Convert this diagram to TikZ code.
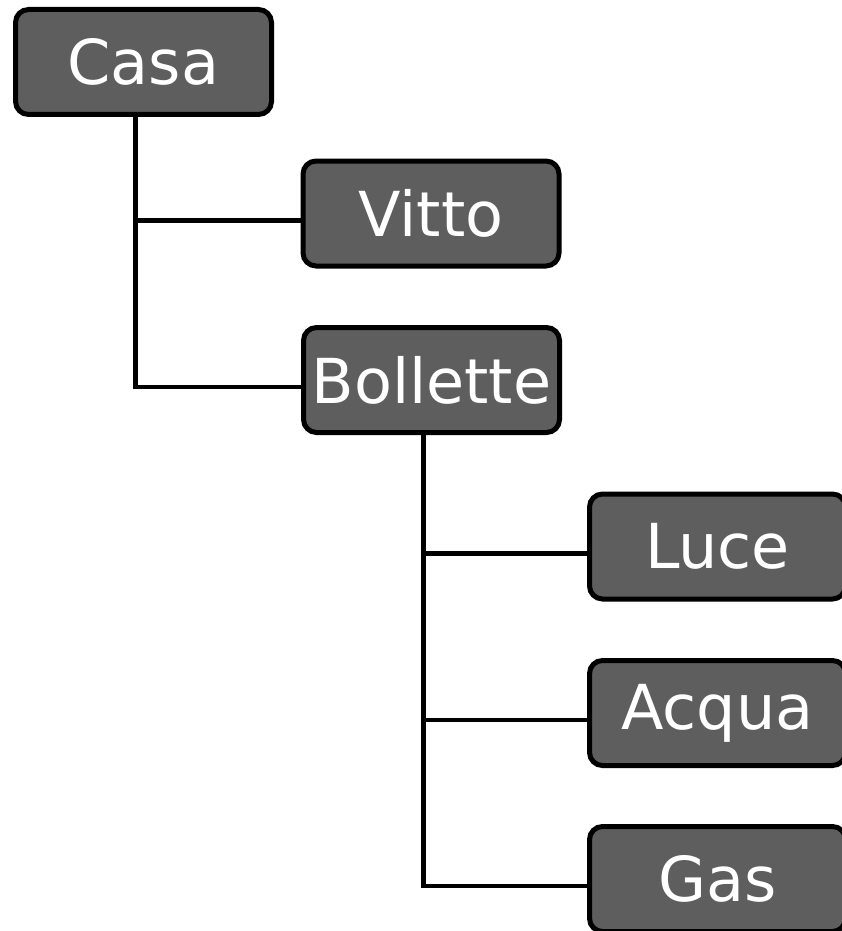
\documentclass[tikz,border=0pt]{standalone}
\usepackage{fontspec}
\setmainfont{DejaVu Sans}
\usetikzlibrary{calc}
\definecolor{boxgray}{HTML}{5E5E5E}
\tikzset{
  item/.style={draw=black, line width=5pt, fill=boxgray, rounded corners=13pt,
    minimum width=256pt, minimum height=105pt, inner sep=0pt, text=white,
    font=\fontsize{62pt}{70pt}\selectfont},
  link/.style={draw=black, line width=4.5pt}
}
\begin{document}
\begin{tikzpicture}[x=1pt,y=-1pt]
\useasboundingbox (0,0) rectangle (841,931);
\node[item] (casa) at (143.5,62) {Casa};
\node[item] (vitto) at (431,213.5) {Vitto};
\node[item] (bollette) at (431.5,380) {Bollette};
\node[item] (luce) at (717.5,546.5) {Luce};
\node[item] (acqua) at (717.5,713) {Acqua};
\node[item] (gas) at (717.5,879) {Gas};
\coordinate (t1) at ($(casa.south)+(-8,0)$);
\coordinate (t2) at ($(bollette.south)+(-8,0)$);
\coordinate (vin) at ($(vitto.west)+(0,7)$);
\coordinate (bin) at ($(bollette.west)+(0,7)$);
\coordinate (lin) at ($(luce.west)+(0,7)$);
\coordinate (ain) at ($(acqua.west)+(0,7)$);
\coordinate (gin) at ($(gas.west)+(0,7)$);
\draw[link] (t1) |- (bin);
\draw[link] (t1 |- vin) -- (vin);
\draw[link] (t2) |- (gin);
\draw[link] (t2 |- lin) -- (lin);
\draw[link] (t2 |- ain) -- (ain);
\end{tikzpicture}
\end{document}
